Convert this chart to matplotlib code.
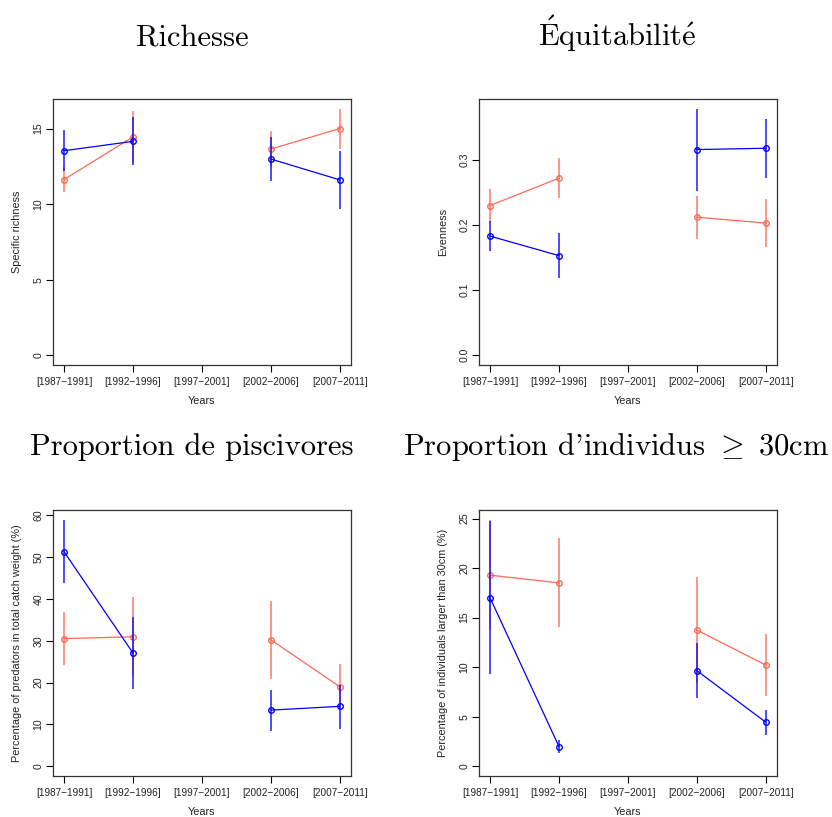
import numpy as np
import matplotlib
matplotlib.use("Agg")
import matplotlib.pyplot as plt

plt.rcParams["mathtext.fontset"] = "cm"
plt.rcParams["axes.formatter.use_mathtext"] = True

nan = np.nan
periods = ["[1987\u22121991]", "[1992\u22121996]", "[1997\u22122001]",
           "[2002\u22122006]", "[2007\u22122011]"]

# Richesse
rich_red = [11.62, 14.45, nan, 13.64, 15.0]
rich_red_lo = [10.78, 12.73, nan, 12.43, 13.64]
rich_red_hi = [12.46, 16.17, nan, 14.85, 16.32]
rich_blue = [13.53, 14.15, nan, 12.98, 11.6]
rich_blue_lo = [12.2, 12.6, nan, 11.5, 9.68]
rich_blue_hi = [14.9, 15.73, nan, 14.45, 13.48]

# Equitabilite
even_red = [0.230, 0.272, nan, 0.212, 0.203]
even_red_lo = [0.205, 0.242, nan, 0.179, 0.167]
even_red_hi = [0.255, 0.303, nan, 0.245, 0.240]
even_blue = [0.183, 0.153, nan, 0.316, 0.318]
even_blue_lo = [0.160, 0.118, nan, 0.252, 0.272]
even_blue_hi = [0.206, 0.187, nan, 0.379, 0.363]

# Proportion de piscivores
pisc_red = [30.5, 30.95, nan, 30.2, 19.0]
pisc_red_lo = [24.1, 21.5, nan, 20.9, 13.6]
pisc_red_hi = [36.8, 40.4, nan, 39.6, 24.5]
pisc_blue = [51.3, 27.06, nan, 13.4, 14.3]
pisc_blue_lo = [43.9, 18.5, nan, 8.4, 8.8]
pisc_blue_hi = [59.0, 35.6, nan, 18.3, 19.5]

# Proportion d'individus >= 30cm
big_red = [19.28, 18.5, nan, 13.74, 10.2]
big_red_lo = [13.8, 14.0, nan, 8.4, 7.1]
big_red_hi = [24.9, 23.0, nan, 19.1, 13.3]
big_blue = [17.0, 1.98, nan, 9.64, 4.43]
big_blue_lo = [9.3, 1.3, nan, 6.86, 3.16]
big_blue_hi = [24.76, 2.6, nan, 12.46, 5.68]

panels = [
    ("Richesse", "Specific richness", [0, 5, 10, 15], "{:.0f}",
     (rich_red, rich_red_lo, rich_red_hi), (rich_blue, rich_blue_lo, rich_blue_hi)),
    (r"$\mathrm{\acute{E}}$quitabilit$\mathrm{\acute{e}}$", "Evenness",
     [0.0, 0.1, 0.2, 0.3], "{:.1f}",
     (even_red, even_red_lo, even_red_hi), (even_blue, even_blue_lo, even_blue_hi)),
    ("Proportion de piscivores", "Percentage of predators in total catch weight (%)",
     [0, 10, 20, 30, 40, 50, 60], "{:.0f}",
     (pisc_red, pisc_red_lo, pisc_red_hi), (pisc_blue, pisc_blue_lo, pisc_blue_hi)),
    ("Proportion d'individus $\\geq\\ $30cm",
     "Percentage of individuals larger than 30cm (%)",
     [0, 5, 10, 15, 20, 25], "{:.0f}",
     (big_red, big_red_lo, big_red_hi), (big_blue, big_blue_lo, big_blue_hi)),
]

RED = "#FA6A55"
BLUE = "#0000FF"
SANS = "Liberation Sans"

fig = plt.figure(figsize=(8.32, 8.17), dpi=100)
boxes = [(0.0637, 0.5532), (0.5757, 0.5532), (0.0637, 0.0502), (0.5757, 0.0502)]
title_pos = [(0.231, 0.9437), (0.742, 0.9437), (0.231, 0.4431), (0.740, 0.4431)]

x = np.arange(1, len(periods) + 1)
for (title, ylab, yticks, fmt, red, blue), (l, b), (tx, ty) in zip(panels, boxes, title_pos):
    ax = fig.add_axes([l, b, 0.358, 0.326])
    for (m, lo, hi), col, z in ((red, RED, 2), (blue, BLUE, 3)):
        m, lo, hi = np.array(m), np.array(lo), np.array(hi)
        ax.vlines(x, lo, hi, color=col, lw=1.4, alpha=0.7, zorder=z)
        ax.plot(x, m, "-", color=col, lw=0.9, zorder=z)
        ax.plot(x, m, "o", ms=4, mfc="none", mec=col, mew=1.0, zorder=z + 0.5)

    top = np.nanmax(np.concatenate([red[2], blue[2]]))
    ax.set_ylim(-0.04 * top, 1.04 * top)
    ax.set_xlim(0.84, 5.16)
    ax.set_xticks(x)
    ax.set_xticklabels(periods, fontsize=7.2, family=SANS, color="#222222")
    ax.set_yticks(yticks)
    ax.set_yticklabels([fmt.format(v) for v in yticks], fontsize=7.6, family=SANS,
                       color="#222222", rotation=90, va="center")
    ax.tick_params(axis="x", length=5, width=0.8, pad=3.5)
    ax.tick_params(axis="y", length=5, width=0.8, pad=2)
    for s in ax.spines.values():
        s.set_linewidth(0.9)
        s.set_color("#333333")
    ax.set_xlabel("Years", fontsize=7.8, family=SANS, color="#222222")
    ax.set_ylabel(ylab, fontsize=7.8, family=SANS, color="#222222")
    ax.xaxis.set_label_coords(0.5, -0.136)
    ax.yaxis.set_label_coords(-0.122, 0.5)
    ax.xaxis.label.set_va("center")
    ax.yaxis.label.set_va("center")

    fig.text(tx, ty, title, fontsize=22, family="cmr10", ha="center", va="baseline")

fig.savefig("out.png", dpi=100)
